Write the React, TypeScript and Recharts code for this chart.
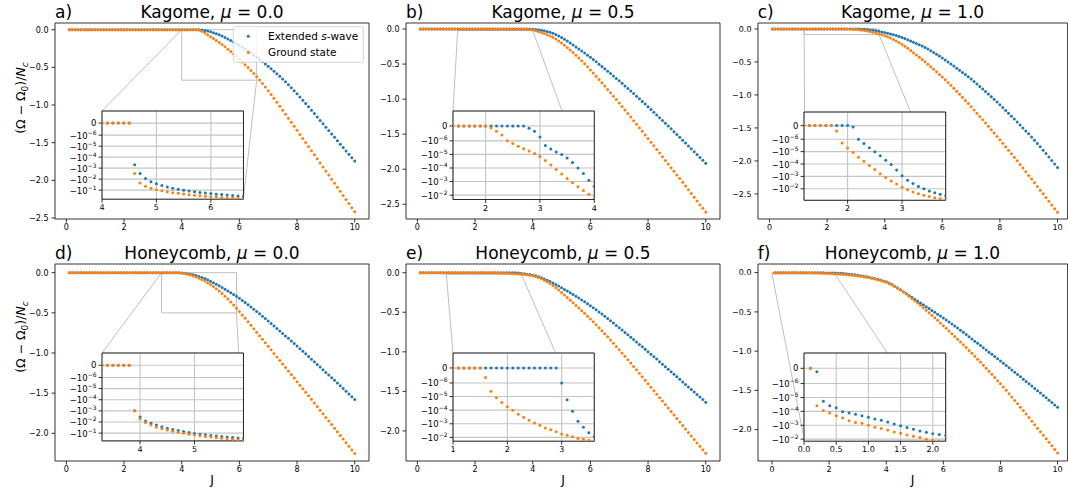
import React from 'react';
import { ScatterChart, Scatter, XAxis, YAxis, CartesianGrid, ReferenceArea, ReferenceLine } from 'recharts';

const FONT = '"DejaVu Sans", "Liberation Sans", sans-serif';
const BLUE = '#1f77b4';
const ORANGE = '#ff7f0e';

// coupling J
const J = [
  0.1, 0.2, 0.3, 0.4, 0.5, 0.6, 0.7, 0.8, 0.9, 1.0,
  1.1, 1.2, 1.3, 1.4, 1.5, 1.6, 1.7, 1.8, 1.9, 2.0,
  2.1, 2.2, 2.3, 2.4, 2.5, 2.6, 2.7, 2.8, 2.9, 3.0,
  3.1, 3.2, 3.3, 3.4, 3.5, 3.6, 3.7, 3.8, 3.9, 4.0,
  4.1, 4.2, 4.3, 4.4, 4.5, 4.6, 4.7, 4.8, 4.9, 5.0,
  5.1, 5.2, 5.3, 5.4, 5.5, 5.6, 5.7, 5.8, 5.9, 6.0,
  6.1, 6.2, 6.3, 6.4, 6.5, 6.6, 6.7, 6.8, 6.9, 7.0,
  7.1, 7.2, 7.3, 7.4, 7.5, 7.6, 7.7, 7.8, 7.9, 8.0,
  8.1, 8.2, 8.3, 8.4, 8.5, 8.6, 8.7, 8.8, 8.9, 9.0,
  9.1, 9.2, 9.3, 9.4, 9.5, 9.6, 9.7, 9.8, 9.9, 10.0,
];

// a) Kagome, mu = 0.0
const kagomeMu00Swave = [
  0, 0, 0, 0, 0, 0, 0, 0, 0, 0,
  0, 0, 0, 0, 0, 0, 0, 0, 0, 0,
  0, 0, 0, 0, 0, 0, 0, 0, 0, 0,
  0, 0, 0, 0, 0, 0, 0, 0, 0, 0,
  0, 0, 0, 0, 0, -0.0005, -0.003, -0.009, -0.017, -0.027,
  -0.039, -0.053, -0.068, -0.085, -0.103, -0.122, -0.142, -0.163, -0.185, -0.208,
  -0.232, -0.257, -0.283, -0.310, -0.338, -0.366, -0.395, -0.424, -0.454, -0.485,
  -0.517, -0.550, -0.584, -0.619, -0.655, -0.692, -0.730, -0.769, -0.809, -0.850,
  -0.892, -0.935, -0.979, -1.024, -1.069, -1.114, -1.159, -1.204, -1.249, -1.294,
  -1.339, -1.384, -1.429, -1.474, -1.519, -1.564, -1.609, -1.654, -1.699, -1.744,
];
const kagomeMu00Ground = [
  0, 0, 0, 0, 0, 0, 0, 0, 0, 0,
  0, 0, 0, 0, 0, 0, 0, 0, 0, 0,
  0, 0, 0, 0, 0, 0, 0, 0, 0, 0,
  0, 0, 0, 0, 0, 0, 0, 0, 0, 0,
  0, 0, 0, 0, 0, -0.003, -0.022, -0.045, -0.068, -0.092,
  -0.117, -0.143, -0.170, -0.198, -0.227, -0.258, -0.290, -0.323, -0.357, -0.392,
  -0.428, -0.465, -0.503, -0.542, -0.582, -0.623, -0.667, -0.713, -0.761, -0.810,
  -0.860, -0.911, -0.963, -1.015, -1.068, -1.121, -1.174, -1.228, -1.282, -1.336,
  -1.390, -1.444, -1.498, -1.552, -1.606, -1.660, -1.714, -1.768, -1.822, -1.876,
  -1.930, -1.984, -2.038, -2.092, -2.146, -2.200, -2.254, -2.308, -2.362, -2.416,
];

// b) Kagome, mu = 0.5
const kagomeMu05Swave = [
  0, 0, 0, 0, 0, 0, 0, 0, 0, 0,
  0, 0, 0, 0, 0, 0, 0, 0, 0, 0,
  0, 0, 0, 0, 0, 0, 0, -1.5e-7, -3.5e-7, -7.5e-7,
  -2.2e-6, -4e-6, -6.5e-6, -1e-5, -1.8e-5, -4e-5, -1e-4, -2.6e-4, -8e-4, -2.2e-3,
  -5e-3, -9.5e-3, -0.016, -0.025, -0.036, -0.047, -0.061, -0.078, -0.098, -0.121,
  -0.146, -0.172, -0.199, -0.227, -0.255, -0.284, -0.313, -0.343, -0.373, -0.404,
  -0.436, -0.468, -0.501, -0.534, -0.567, -0.601, -0.635, -0.669, -0.704, -0.739,
  -0.775, -0.811, -0.847, -0.884, -0.921, -0.958, -0.995, -1.033, -1.071, -1.109,
  -1.148, -1.187, -1.226, -1.265, -1.304, -1.344, -1.384, -1.424, -1.464, -1.504,
  -1.545, -1.586, -1.627, -1.668, -1.709, -1.750, -1.791, -1.832, -1.873, -1.914,
];
const kagomeMu05Ground = [
  0, 0, 0, 0, 0, 0, 0, 0, 0, 0,
  0, 0, 0, 0, 0, 0, 0, 0, 0, 0,
  -1.3e-7, -3.5e-7, -6e-7, -1e-6, -1.6e-6, -2.5e-6, -3.8e-6, -5.6e-6, -8.5e-6, -1.4e-5,
  -2.8e-5, -6e-5, -1.3e-4, -2.8e-4, -6e-4, -1.2e-3, -2.4e-3, -4.6e-3, -8.5e-3, -0.015,
  -0.024, -0.035, -0.048, -0.063, -0.080, -0.098, -0.119, -0.143, -0.170, -0.199,
  -0.230, -0.263, -0.298, -0.335, -0.373, -0.413, -0.454, -0.496, -0.539, -0.583,
  -0.628, -0.674, -0.720, -0.767, -0.814, -0.862, -0.910, -0.958, -1.007, -1.056,
  -1.106, -1.156, -1.206, -1.256, -1.307, -1.358, -1.409, -1.460, -1.511, -1.562,
  -1.614, -1.666, -1.718, -1.770, -1.822, -1.874, -1.926, -1.978, -2.030, -2.082,
  -2.134, -2.187, -2.240, -2.293, -2.346, -2.399, -2.452, -2.505, -2.558, -2.611,
];

// c) Kagome, mu = 1.0
const kagomeMu10Swave = [
  0, 0, 0, 0, 0, 0, 0, 0, 0, 0,
  0, 0, 0, 0, 0, 0, 0, 0, 0, 0,
  -1e-7, -1e-6, -2.2e-6, -4.8e-6, -1e-5, -2.2e-5, -5e-5, -1.1e-4, -3e-4, -9e-4,
  -2e-3, -3.8e-3, -6.5e-3, -0.010, -0.015, -0.021, -0.028, -0.036, -0.045, -0.055,
  -0.065, -0.076, -0.088, -0.101, -0.115, -0.130, -0.146, -0.163, -0.181, -0.200,
  -0.219, -0.239, -0.260, -0.282, -0.305, -0.330, -0.356, -0.383, -0.411, -0.440,
  -0.470, -0.500, -0.531, -0.562, -0.594, -0.626, -0.659, -0.692, -0.726, -0.760,
  -0.796, -0.833, -0.871, -0.909, -0.948, -0.987, -1.027, -1.067, -1.108, -1.150,
  -1.192, -1.235, -1.278, -1.322, -1.366, -1.410, -1.455, -1.500, -1.545, -1.590,
  -1.638, -1.687, -1.737, -1.787, -1.838, -1.889, -1.941, -1.993, -2.046, -2.100,
];
const kagomeMu10Ground = [
  0, 0, 0, 0, 0, 0, 0, 0, 0, 0,
  0, 0, 0, 0, 0, 0, 0, -4e-7, -2e-6, -5e-6,
  -1.2e-5, -2.8e-5, -6e-5, -1.3e-4, -2.8e-4, -6e-4, -1.2e-3, -2.3e-3, -4.2e-3, -7.5e-3,
  -0.012, -0.018, -0.025, -0.033, -0.042, -0.052, -0.063, -0.075, -0.088, -0.102,
  -0.119, -0.138, -0.159, -0.182, -0.207, -0.234, -0.263, -0.294, -0.326, -0.359,
  -0.393, -0.428, -0.463, -0.499, -0.536, -0.573, -0.611, -0.650, -0.689, -0.729,
  -0.770, -0.812, -0.855, -0.899, -0.944, -0.990, -1.036, -1.083, -1.131, -1.179,
  -1.228, -1.277, -1.326, -1.376, -1.426, -1.476, -1.526, -1.577, -1.628, -1.679,
  -1.731, -1.784, -1.837, -1.891, -1.945, -1.999, -2.054, -2.109, -2.164, -2.219,
  -2.275, -2.331, -2.387, -2.443, -2.499, -2.555, -2.611, -2.667, -2.723, -2.779,
];

// d) Honeycomb, mu = 0.0
const honeyMu00Swave = [
  0, 0, 0, 0, 0, 0, 0, 0, 0, 0,
  0, 0, 0, 0, 0, 0, 0, 0, 0, 0,
  0, 0, 0, 0, 0, 0, 0, 0, 0, 0,
  0, 0, 0, 0, 0, 0, 0, 0, -0.001, -0.0035,
  -0.008, -0.013, -0.019, -0.027, -0.036, -0.047, -0.059, -0.073, -0.089, -0.106,
  -0.124, -0.143, -0.163, -0.184, -0.205, -0.227, -0.249, -0.272, -0.295, -0.319,
  -0.345, -0.372, -0.399, -0.427, -0.455, -0.484, -0.513, -0.542, -0.572, -0.602,
  -0.632, -0.663, -0.694, -0.725, -0.756, -0.787, -0.818, -0.850, -0.882, -0.914,
  -0.946, -0.978, -1.011, -1.044, -1.077, -1.110, -1.143, -1.176, -1.209, -1.242,
  -1.275, -1.308, -1.341, -1.374, -1.408, -1.442, -1.476, -1.510, -1.544, -1.578,
];
const honeyMu00Ground = [
  0, 0, 0, 0, 0, 0, 0, 0, 0, 0,
  0, 0, 0, 0, 0, 0, 0, 0, 0, 0,
  0, 0, 0, 0, 0, 0, 0, 0, 0, 0,
  0, 0, 0, 0, 0, 0, 0, 0, -0.001, -0.005,
  -0.011, -0.019, -0.029, -0.040, -0.053, -0.068, -0.085, -0.104, -0.125, -0.148,
  -0.173, -0.200, -0.229, -0.260, -0.293, -0.328, -0.365, -0.404, -0.444, -0.485,
  -0.527, -0.569, -0.612, -0.655, -0.698, -0.741, -0.785, -0.829, -0.873, -0.917,
  -0.961, -1.005, -1.049, -1.093, -1.137, -1.181, -1.225, -1.269, -1.313, -1.357,
  -1.401, -1.445, -1.489, -1.533, -1.577, -1.622, -1.667, -1.712, -1.757, -1.802,
  -1.847, -1.892, -1.937, -1.982, -2.027, -2.072, -2.117, -2.162, -2.207, -2.252,
];

// e) Honeycomb, mu = 0.5
const honeyMu05Swave = [
  0, 0, 0, 0, 0, 0, 0, 0, 0, 0,
  0, 0, 0, 0, 0, 0, 0, 0, 0, 0,
  0, 0, 0, 0, 0, 0, 0, 0, 0, -1e-6,
  -1.7e-5, -1.2e-4, -6.5e-4, -1.8e-3, -4.6e-3, -8.5e-3, -0.013, -0.018, -0.024, -0.031,
  -0.040, -0.051, -0.064, -0.079, -0.095, -0.112, -0.130, -0.149, -0.169, -0.190,
  -0.211, -0.232, -0.254, -0.276, -0.298, -0.321, -0.344, -0.368, -0.392, -0.417,
  -0.443, -0.469, -0.496, -0.523, -0.551, -0.579, -0.608, -0.637, -0.666, -0.695,
  -0.725, -0.755, -0.785, -0.815, -0.845, -0.875, -0.906, -0.937, -0.968, -0.999,
  -1.030, -1.061, -1.092, -1.124, -1.156, -1.188, -1.220, -1.252, -1.284, -1.316,
  -1.348, -1.380, -1.412, -1.444, -1.476, -1.508, -1.540, -1.572, -1.604, -1.636,
];
const honeyMu05Ground = [
  0, 0, 0, 0, 0, 0, 0, 0, 0, 0,
  0, 0, 0, 0, 0, -6.4e-7, -4e-6, -1.2e-5, -2.7e-5, -5.6e-5,
  -1e-4, -2e-4, -3.3e-4, -5.4e-4, -8.8e-4, -1.3e-3, -2e-3, -2.8e-3, -3.8e-3, -5.6e-3,
  -7e-3, -9e-3, -0.012, -0.0135, -0.016, -0.018, -0.022, -0.027, -0.033, -0.040,
  -0.049, -0.061, -0.076, -0.094, -0.115, -0.138, -0.163, -0.190, -0.219, -0.250,
  -0.282, -0.314, -0.347, -0.380, -0.413, -0.446, -0.480, -0.514, -0.549, -0.584,
  -0.620, -0.657, -0.695, -0.733, -0.772, -0.811, -0.851, -0.891, -0.932, -0.973,
  -1.015, -1.057, -1.099, -1.142, -1.185, -1.228, -1.271, -1.315, -1.359, -1.403,
  -1.447, -1.491, -1.535, -1.579, -1.623, -1.667, -1.711, -1.755, -1.799, -1.843,
  -1.887, -1.931, -1.975, -2.019, -2.063, -2.107, -2.151, -2.195, -2.239, -2.283,
];

// f) Honeycomb, mu = 1.0
const honeyMu10Swave = [
  0, -2.3e-7, -1.9e-5, -4e-5, -5.5e-5, -1.05e-4, -1.3e-4, -1.6e-4, -2.1e-4, -2.7e-4,
  -3.5e-4, -4.4e-4, -5.8e-4, -8e-4, -1.1e-3, -1.45e-3, -1.9e-3, -2.6e-3, -3.2e-3, -4e-3,
  -4.7e-3, -5.5e-3, -0.007, -0.009, -0.012, -0.015, -0.019, -0.023, -0.028, -0.033,
  -0.039, -0.045, -0.052, -0.059, -0.067, -0.075, -0.084, -0.094, -0.105, -0.117,
  -0.133, -0.152, -0.173, -0.195, -0.218, -0.242, -0.266, -0.290, -0.314, -0.338,
  -0.362, -0.386, -0.410, -0.434, -0.458, -0.482, -0.506, -0.530, -0.554, -0.578,
  -0.603, -0.628, -0.654, -0.680, -0.707, -0.734, -0.761, -0.789, -0.817, -0.845,
  -0.873, -0.901, -0.929, -0.957, -0.985, -1.013, -1.041, -1.069, -1.097, -1.125,
  -1.154, -1.183, -1.212, -1.241, -1.270, -1.299, -1.328, -1.357, -1.386, -1.415,
  -1.445, -1.475, -1.505, -1.535, -1.565, -1.595, -1.625, -1.655, -1.685, -1.715,
];
const honeyMu10Ground = [
  0, -4e-5, -8.5e-5, -1.3e-4, -2.1e-4, -3e-4, -4.7e-4, -6.2e-4, -7.3e-4, -1e-3,
  -1.4e-3, -1.7e-3, -2.2e-3, -3e-3, -3.8e-3, -5e-3, -6.2e-3, -7.6e-3, -0.010, -0.012,
  -0.014, -0.016, -0.018, -0.020, -0.023, -0.026, -0.029, -0.033, -0.037, -0.042,
  -0.047, -0.053, -0.059, -0.066, -0.073, -0.081, -0.090, -0.100, -0.111, -0.123,
  -0.138, -0.156, -0.176, -0.198, -0.222, -0.247, -0.273, -0.300, -0.328, -0.357,
  -0.386, -0.416, -0.447, -0.478, -0.510, -0.542, -0.575, -0.608, -0.642, -0.676,
  -0.710, -0.744, -0.779, -0.814, -0.849, -0.884, -0.919, -0.955, -0.991, -1.027,
  -1.064, -1.102, -1.140, -1.179, -1.218, -1.257, -1.296, -1.336, -1.376, -1.417,
  -1.458, -1.500, -1.542, -1.585, -1.628, -1.671, -1.714, -1.758, -1.802, -1.847,
  -1.892, -1.937, -1.982, -2.027, -2.072, -2.117, -2.162, -2.207, -2.252, -2.297,
];

// tick values
const MAIN_X_TICKS = [0, 2, 4, 6, 8, 10];
const KAGOME_Y_TICKS = [0, -0.5, -1, -1.5, -2, -2.5];
const HONEY_Y_TICKS = [0, -0.5, -1, -1.5, -2];
const EXP_TO_M1 = [-6, -5, -4, -3, -2, -1];
const EXP_TO_M2 = [-6, -5, -4, -3, -2];

// symlog axis transform (linthresh 1e-6)
const LINTHRESH = 1e-6;
const LINSCALE = 1.1;
const symlog = (v: number) => {
  const a = Math.abs(v);
  if (a <= LINTHRESH) return (v / LINTHRESH) * LINSCALE;
  return Math.sign(v) * (LINSCALE + Math.log10(a / LINTHRESH));
};

type Corner = 'UL' | 'UR' | 'LL' | 'LR';
interface PanelCfg {
  tag: string; lattice: string; mu: string;
  box: number[]; xDom: number[]; yDom: number[]; yTicks: number[];
  inBox: number[]; inX: number[]; inBottom: number; inXTicks: number[]; inXDec: number;
  inExps: number[]; conn: Corner[];
  swave: number[]; ground: number[];
}

const PANELS: PanelCfg[] = [
  { tag: 'a', lattice: 'Kagome', mu: '0.0', box: [55, 23.3, 369, 219.3], xDom: [-0.395, 10.495], yDom: [-2.513, 0.089], yTicks: KAGOME_Y_TICKS,
    inBox: [101.8, 111.3, 243.3, 199.5], inX: [4, 6.6], inBottom: -0.67, inXTicks: [4, 5, 6], inXDec: 0, inExps: EXP_TO_M1, conn: ['UL', 'LR'],
    swave: kagomeMu00Swave, ground: kagomeMu00Ground },
  { tag: 'b', lattice: 'Kagome', mu: '0.5', box: [406, 23.3, 720, 219.3], xDom: [-0.395, 10.495], yDom: [-2.71, 0.086], yTicks: KAGOME_Y_TICKS,
    inBox: [453, 111.3, 594.3, 199.8], inX: [1.4, 4.0], inBottom: -0.021, inXTicks: [2, 3, 4], inXDec: 0, inExps: EXP_TO_M2, conn: ['UL', 'LR'],
    swave: kagomeMu05Swave, ground: kagomeMu05Ground },
  { tag: 'c', lattice: 'Kagome', mu: '1.0', box: [757.7, 23.3, 1067.3, 219.3], xDom: [-0.4, 10.35], yDom: [-2.88, 0.09], yTicks: KAGOME_Y_TICKS,
    inBox: [804.3, 111.5, 946, 199.8], inX: [1.2, 3.8], inBottom: -0.085, inXTicks: [2, 3], inXDec: 0, inExps: EXP_TO_M2, conn: ['UL', 'LR'],
    swave: kagomeMu10Swave, ground: kagomeMu10Ground },
  { tag: 'd', lattice: 'Honeycomb', mu: '0.0', box: [55, 264, 369, 461], xDom: [-0.395, 10.495], yDom: [-2.345, 0.108], yTicks: HONEY_Y_TICKS,
    inBox: [101.8, 353.3, 243.3, 441.2], inX: [3.3, 5.9], inBottom: -0.5, inXTicks: [4, 5], inXDec: 0, inExps: EXP_TO_M1, conn: ['UL', 'LR'],
    swave: honeyMu00Swave, ground: honeyMu00Ground },
  { tag: 'e', lattice: 'Honeycomb', mu: '0.5', box: [406, 264, 720, 461], xDom: [-0.395, 10.495], yDom: [-2.38, 0.11], yTicks: HONEY_Y_TICKS,
    inBox: [453, 353.3, 594.3, 441.5], inX: [1.0, 3.6], inBottom: -0.019, inXTicks: [1, 2, 3], inXDec: 0, inExps: EXP_TO_M2, conn: ['UL', 'LR'],
    swave: honeyMu05Swave, ground: honeyMu05Ground },
  { tag: 'f', lattice: 'Honeycomb', mu: '1.0', box: [757.7, 264, 1067.3, 461], xDom: [-0.49, 10.35], yDom: [-2.40, 0.11], yTicks: HONEY_Y_TICKS,
    inBox: [804.3, 353.3, 946, 441.5], inX: [0, 2.2], inBottom: -0.014, inXTicks: [0, 0.5, 1, 1.5, 2], inXDec: 1, inExps: EXP_TO_M2, conn: ['LL', 'LR'],
    swave: honeyMu10Swave, ground: honeyMu10Ground },
];

const dot = (color: string) => (props: any) => {
  if (props.cx == null || props.cy == null) return <g />;
  return <circle cx={props.cx} cy={props.cy} r={1.5} fill={color} />;
};

const fmtMain = (v: number) => (Math.abs(v) < 1e-9 ? '0.0' : (v < 0 ? '\u2212' : '') + Math.abs(v).toFixed(1));

const SymTick = (props: any) => {
  const { x, y, payload } = props;
  const v = payload.value as number;
  if (Math.abs(v) < 1e-9) {
    return <text x={x} y={y} dy={3} textAnchor="end" fontSize={8.5} fill="#000" fontFamily={FONT}>0</text>;
  }
  const e = Math.round(-v - LINSCALE) - 6;
  return (
    <text x={x} y={y} dy={3.5} textAnchor="end" fontSize={8.5} fill="#000" fontFamily={FONT}>
      <tspan>{'\u221210'}</tspan>
      <tspan dy={-4} fontSize={6}>{'\u2212' + Math.abs(e)}</tspan>
    </text>
  );
};

const ML = 55, MT = 30, MR = 10, MB = 24;

function MainChart({ p }: { p: PanelCfg }) {
  const [x0, y0, x1, y1] = p.box;
  const W = x1 - x0 + ML + MR;
  const H = y1 - y0 + MT + MB;
  const sData = J.map((x, i) => ({ x, y: p.swave[i] }));
  const gData = J.map((x, i) => ({ x, y: p.ground[i] }));
  const px2x = (px: number) => p.xDom[0] + ((px - x0) / (x1 - x0)) * (p.xDom[1] - p.xDom[0]);
  const py2y = (py: number) => p.yDom[1] - ((py - y0) / (y1 - y0)) * (p.yDom[1] - p.yDom[0]);
  const [ix0, iy0, ix1, iy1] = p.inBox;
  const rc: Record<Corner, { x: number; y: number }> = {
    UL: { x: p.inX[0], y: LINTHRESH }, UR: { x: p.inX[1], y: LINTHRESH },
    LL: { x: p.inX[0], y: p.inBottom }, LR: { x: p.inX[1], y: p.inBottom },
  };
  const ic: Record<Corner, { x: number; y: number }> = {
    UL: { x: px2x(ix0), y: py2y(iy0) }, UR: { x: px2x(ix1), y: py2y(iy0) },
    LL: { x: px2x(ix0), y: py2y(iy1) }, LR: { x: px2x(ix1), y: py2y(iy1) },
  };
  return (
    <div style={{ position: 'absolute', left: x0 - ML, top: y0 - MT, width: W, height: H }}>
      <ScatterChart width={W} height={H} margin={{ top: MT, right: MR, bottom: MB - 20, left: ML - 40 }}>
        <XAxis type="number" dataKey="x" domain={p.xDom} ticks={MAIN_X_TICKS} allowDataOverflow interval={0}
          axisLine={false} stroke="#000" tickSize={3.5} tickMargin={2} height={20}
          tick={{ fontSize: 8, fill: '#000', fontFamily: FONT }} tickLine={{ stroke: '#000', strokeWidth: 0.8 }} />
        <YAxis type="number" dataKey="y" domain={p.yDom} ticks={p.yTicks} allowDataOverflow interval={0}
          axisLine={false} stroke="#000" tickSize={3.5} tickMargin={3} width={40} tickFormatter={fmtMain}
          tick={{ fontSize: 8, fill: '#000', fontFamily: FONT }} tickLine={{ stroke: '#000', strokeWidth: 0.8 }} />
        <Scatter data={sData} shape={dot(BLUE)} isAnimationActive={false} />
        <Scatter data={gData} shape={dot(ORANGE)} isAnimationActive={false} />
        <ReferenceArea x1={p.inX[0]} x2={p.inX[1]} y1={p.inBottom} y2={LINTHRESH} fill="none" fillOpacity={0}
          stroke="#bfbfbf" strokeWidth={1} ifOverflow="visible" />
        {p.conn.map((c) => (
          <ReferenceLine key={c} segment={[rc[c], ic[c]]} stroke="#bfbfbf" strokeWidth={1} ifOverflow="visible" />
        ))}
        <ReferenceArea x1={p.xDom[0]} x2={p.xDom[1]} y1={p.yDom[0]} y2={p.yDom[1]} fill="none" fillOpacity={0}
          stroke="#000" strokeWidth={0.8} ifOverflow="visible" />
      </ScatterChart>
    </div>
  );
}

const IL = 45, IT = 5, IR = 5, IB = 20;

function InsetChart({ p }: { p: PanelCfg }) {
  const [ix0, iy0, ix1, iy1] = p.inBox;
  const W = ix1 - ix0 + IL + IR;
  const H = iy1 - iy0 + IT + IB;
  const yMin = symlog(p.inBottom);
  const yMax = LINSCALE;
  const keep = (d: { x: number; y: number }) => d.x >= p.inX[0] - 1e-9 && d.x <= p.inX[1] + 1e-9 && d.y >= yMin - 1e-9;
  const sData = J.map((x, i) => ({ x, y: symlog(p.swave[i]) })).filter(keep);
  const gData = J.map((x, i) => ({ x, y: symlog(p.ground[i]) })).filter(keep);
  const yTicks = [0, ...p.inExps.map((e) => -(LINSCALE + e + 6))];
  return (
    <div style={{ position: 'absolute', left: ix0 - IL, top: iy0 - IT, width: W, height: H }}>
      <ScatterChart width={W} height={H} margin={{ top: IT, right: IR, bottom: IB - 20, left: IL - 40 }}>
        <CartesianGrid fill="#ffffff" fillOpacity={1} stroke="#c4c4c4" strokeWidth={1.1} />
        <XAxis type="number" dataKey="x" domain={p.inX} ticks={p.inXTicks} allowDataOverflow interval={0}
          axisLine={false} stroke="#000" tickSize={3.5} tickMargin={2} height={20}
          tickFormatter={(v: number) => v.toFixed(p.inXDec)}
          tick={{ fontSize: 8, fill: '#000', fontFamily: FONT }} tickLine={{ stroke: '#000', strokeWidth: 0.8 }} />
        <YAxis type="number" dataKey="y" domain={[yMin, yMax]} ticks={yTicks} allowDataOverflow interval={0}
          axisLine={false} stroke="#000" tickSize={3.5} tickMargin={2} width={40}
          tick={<SymTick />} tickLine={{ stroke: '#000', strokeWidth: 0.8 }} />
        <Scatter data={sData} shape={dot(BLUE)} isAnimationActive={false} />
        <Scatter data={gData} shape={dot(ORANGE)} isAnimationActive={false} />
        <ReferenceArea x1={p.inX[0]} x2={p.inX[1]} y1={yMin} y2={yMax} fill="none" fillOpacity={0}
          stroke="#000" strokeWidth={0.8} ifOverflow="visible" />
      </ScatterChart>
    </div>
  );
}

export default function App() {
  return (
    <div style={{ position: 'absolute', left: 0, top: 0, width: 1068, height: 498, overflow: 'hidden', background: '#fff', fontFamily: FONT }}>
      {PANELS.map((p) => <MainChart key={'m' + p.tag} p={p} />)}
      {PANELS.map((p) => <InsetChart key={'i' + p.tag} p={p} />)}
      <svg width={1068} height={498} style={{ position: 'absolute', left: 0, top: 0, pointerEvents: 'none' }} fontFamily={FONT}>
        {PANELS.map((p) => {
          const [x0, y0, x1] = p.box;
          const cx = (x0 + x1) / 2;
          const by = y0 - 5;
          return (
            <g key={'t' + p.tag}>
              <text x={x0} y={by} fontSize={17} fill="#000">{p.tag + ')'}</text>
              <text x={cx} y={by} fontSize={17} fill="#000" textAnchor="middle">
                {p.lattice + ', '}<tspan fontStyle="italic">μ</tspan>{' = ' + p.mu}
              </text>
            </g>
          );
        })}
        {[98, 337].map((cy) => (
          <text key={'yl' + cy} transform={`translate(25,${cy}) rotate(-90)`} textAnchor="middle" fontSize={12.5} fill="#000">
            {'(Ω \u2212 Ω'}<tspan fontSize={9} dy={2.5}>0</tspan><tspan dy={-2.5}>{')/'}</tspan>
            <tspan fontStyle="italic">N</tspan><tspan fontSize={9} fontStyle="italic" dy={2.5}>c</tspan>
          </text>
        ))}
        {PANELS.slice(3).map((p) => (
          <text key={'xl' + p.tag} x={(p.box[0] + p.box[2]) / 2} y={484} textAnchor="middle" fontSize={12.5} fill="#000">J</text>
        ))}
        <g>
          <rect x={233.3} y={26.7} width={130} height={35.6} rx={2} fill="#fff" fillOpacity={0.8} stroke="#cccccc" strokeWidth={0.8} />
          <circle cx={248.3} cy={36.3} r={1.5} fill={BLUE} />
          <text x={268} y={40} fontSize={10.5} fill="#000">Extended <tspan fontStyle="italic">s</tspan>-wave</text>
          <circle cx={248.3} cy={52.5} r={1.5} fill={ORANGE} />
          <text x={268} y={56.3} fontSize={10.5} fill="#000">Ground state</text>
        </g>
      </svg>
    </div>
  );
}
